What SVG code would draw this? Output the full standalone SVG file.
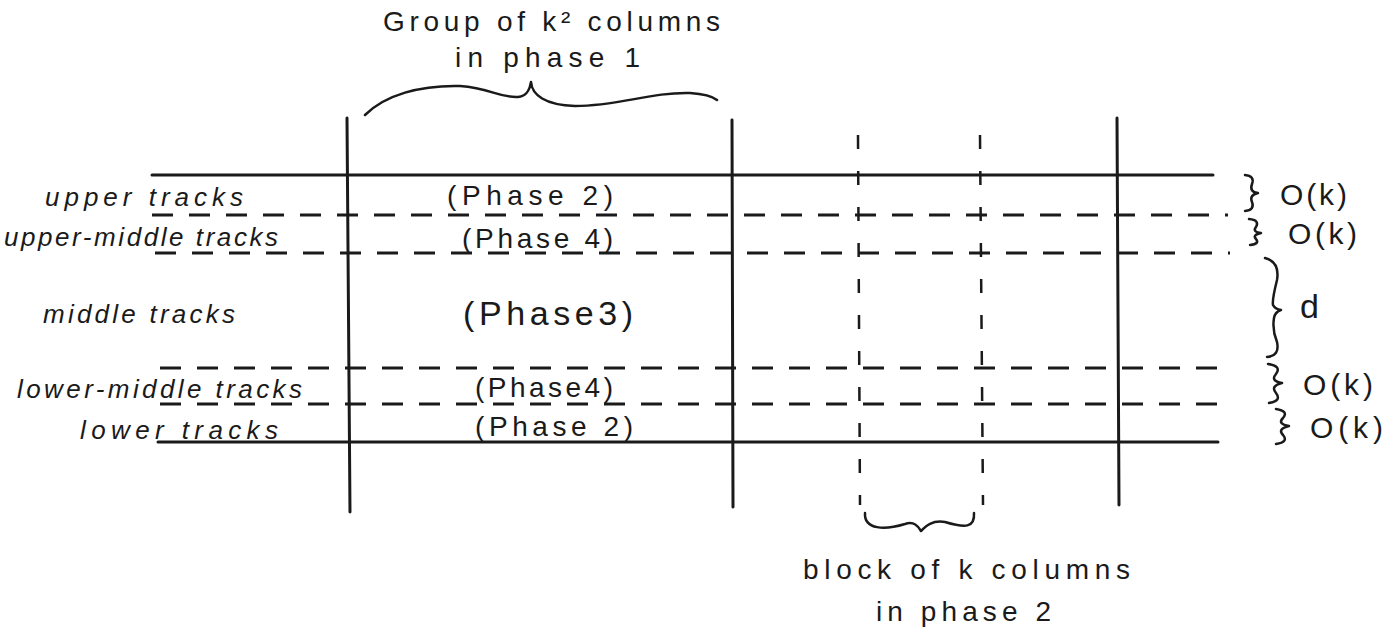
<svg xmlns="http://www.w3.org/2000/svg" width="1398" height="634" viewBox="0 0 1398 634">
<style>
.solid{stroke:#1a1a1a;stroke-width:3;fill:none;stroke-linecap:round}
.dash{stroke:#1a1a1a;stroke-width:3;fill:none;stroke-dasharray:21 16}
.vdash{stroke:#1a1a1a;stroke-width:2.5;fill:none;stroke-dasharray:14 22}
.brace{stroke:#1a1a1a;stroke-width:2.5;fill:none;stroke-linecap:round;stroke-linejoin:round}
text{font-family:"Liberation Sans",Arial,sans-serif;fill:#1a1a1a;font-size:25px}
.cap{font-size:28px}
.lab{font-size:26px;font-style:italic}
.ph{font-size:28px}
.ph3{font-size:34px}
.ok{font-size:30px}
.dd{font-size:34px}
</style>
<rect width="1398" height="634" fill="#ffffff"/>
<g id="connectors">
<line class="solid" x1="152" y1="175" x2="1213" y2="175"/>
<line class="solid" x1="158" y1="442" x2="1218" y2="442"/>
<line class="dash" x1="152" y1="215" x2="1228" y2="215"/>
<line class="dash" x1="155" y1="253" x2="1230" y2="253"/>
<line class="dash" x1="160" y1="368" x2="1228" y2="368"/>
<line class="dash" x1="160" y1="404" x2="1228" y2="404"/>
<line class="solid" x1="347" y1="118" x2="350" y2="512"/>
<line class="solid" x1="732" y1="120" x2="733" y2="507"/>
<line class="solid" x1="1117" y1="118" x2="1119" y2="505"/>
<line class="vdash" x1="858" y1="135" x2="860" y2="505"/>
<line class="vdash" x1="980" y1="135" x2="983" y2="505"/>
</g>
<g id="brace-top">
<path class="brace" d="M365,115 C385,95 420,85 460,86 C490,88 500,98 518,97 C528,96 530,88 531,82 C532,95 545,105 575,106 C620,106 650,92 690,93 C705,94 712,96 717,100"/>
<text class="cap" x="383" y="31" textLength="337" lengthAdjust="spacing">Group of k² columns</text>
<text class="cap" x="455" y="67" textLength="185" lengthAdjust="spacing">in phase 1</text>
</g>
<g id="brace-bottom">
<path class="brace" d="M865,513 C864,530 885,530 905,524 C914,521 918,526 921,531 C926,526 932,520 945,522 C965,528 975,528 974,513"/>
<text class="cap" x="803" y="579" textLength="327" lengthAdjust="spacing">block of k columns</text>
<text class="cap" x="876" y="621" textLength="175" lengthAdjust="spacing">in phase 2</text>
</g>
<g id="row-labels">
<text class="lab" x="45" y="206" textLength="198" lengthAdjust="spacing">upper tracks</text>
<text class="lab" x="4" y="246" textLength="274" lengthAdjust="spacing">upper-middle tracks</text>
<text class="lab" x="43" y="323" textLength="192" lengthAdjust="spacing">middle tracks</text>
<text class="lab" x="17" y="398" textLength="285" lengthAdjust="spacing">lower-middle tracks</text>
<text class="lab" x="80" y="439" textLength="198" lengthAdjust="spacing">lower tracks</text>
</g>
<g id="phase-labels">
<text class="ph" x="447" y="205" textLength="166" lengthAdjust="spacing">(Phase 2)</text>
<text class="ph" x="462" y="248" textLength="151" lengthAdjust="spacing">(Phase 4)</text>
<text class="ph3" x="463" y="325" textLength="170" lengthAdjust="spacing">(Phase3)</text>
<text class="ph" x="475" y="397" textLength="138" lengthAdjust="spacing">(Phase4)</text>
<text class="ph" x="475" y="436" textLength="158" lengthAdjust="spacing">(Phase 2)</text>
</g>
<g id="right-braces">
<path class="brace" d="M1245,175 Q1255,176 1252,184 Q1249,192 1258,193 Q1249,195 1252,202 Q1255,210 1245,211"/>
<text class="ok" x="1280" y="205" textLength="67" lengthAdjust="spacing">O(k)</text>
<path class="brace" d="M1249,219 Q1260,220 1256,227 Q1252,232 1261,233 Q1252,235 1256,239 Q1260,244 1250,245"/>
<text class="ok" x="1288" y="244" textLength="69" lengthAdjust="spacing">O(k)</text>
<path class="brace" d="M1265,258 Q1280,262 1277,280 Q1272,300 1273,305 Q1275,309 1281,310 Q1275,312 1274,318 Q1272,330 1277,342 Q1280,356 1267,357"/>
<text class="dd" x="1300" y="318">d</text>
<path class="brace" d="M1268,364 Q1282,366 1276,374 Q1270,381 1282,383 Q1270,386 1276,393 Q1282,401 1269,403"/>
<text class="ok" x="1303" y="395" textLength="70" lengthAdjust="spacing">O(k)</text>
<path class="brace" d="M1276,409 Q1289,411 1283,418 Q1277,424 1289,426 Q1277,429 1283,435 Q1289,442 1276,444"/>
<text class="ok" x="1310" y="438" textLength="73" lengthAdjust="spacing">O(k)</text>
</g>
</svg>
